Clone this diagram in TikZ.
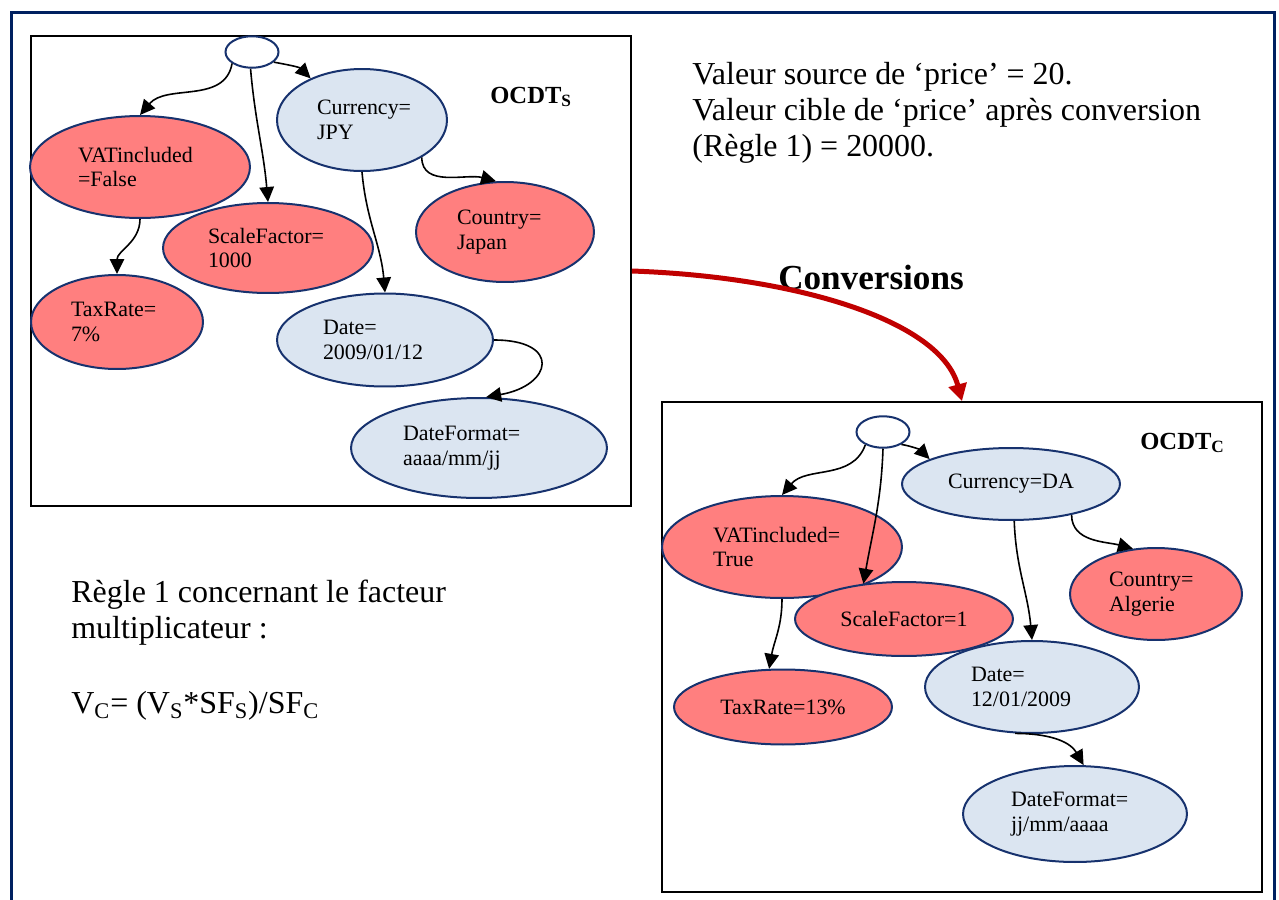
\documentclass[tikz,border=0pt]{standalone}
\usepackage{fontspec}
\setmainfont{Liberation Serif}
\usepackage{xcolor}
\usetikzlibrary{arrows.meta, shapes.geometric}

\definecolor{framenavy}{RGB}{0,32,96}
\definecolor{ellnavy}{RGB}{23,50,110}
\definecolor{attrred}{RGB}{255,127,127}
\definecolor{ctxblue}{RGB}{219,229,241}
\definecolor{convred}{RGB}{192,0,0}

\begin{document}
\begin{tikzpicture}[
  x=0.02cm, y=-0.02cm,
  ell/.style={ellipse, draw=ellnavy, line width=0.04cm, inner sep=0pt,
              align=left, font=\fontsize{12.5}{14}\selectfont},
  attr/.style={ell, fill=attrred},
  ctx/.style={ell, fill=ctxblue},
  top/.style={ell, fill=white, minimum width=1.06cm, minimum height=0.63cm},
  panel/.style={draw=black, line width=0.04cm, minimum width=12cm, inner sep=0pt},
  arr/.style={-{Triangle[length=0.3cm, width=0.29cm]}, line width=0.032cm, black},
  conv/.style={-{Triangle[length=0.34cm, width=0.36cm]}, line width=0.1cm, convred},
  txt/.style={font=\fontsize{18.2}{20.5}\selectfont, align=left, inner sep=0pt},
  lbl/.style={font=\fontsize{14}{16}\selectfont\bfseries, inner sep=0pt}
]
\useasboundingbox (0,0) rectangle (1279,900);
\draw[framenavy, line width=0.06cm] (11.5,900) -- (11.5,12) -- (1274,12) -- (1274,900);

\node[panel, minimum height=9.4cm] (boxS) at (331,271) {};
\node[panel, minimum height=9.8cm] (boxC) at (962,647) {};

\node[top] (rootS) at (252,52) {};
\node[attr, minimum width=4.4cm, minimum height=2.04cm, text width=2.48cm] (vatS) at (140,167) {VATincluded\\=False};
\node[attr, minimum width=4.2cm, minimum height=1.8cm, text width=2.4cm] (scaleS) at (268,248) {ScaleFactor=\\1000};
\node[attr, minimum width=3.44cm, minimum height=1.88cm, text width=1.84cm] (taxS) at (117,322) {TaxRate=\\7\%};
\node[ctx, minimum width=3.4cm, minimum height=2.04cm, text width=1.8cm] (curS) at (362,120) {Currency=\\JPY};
\node[attr, minimum width=3.56cm, minimum height=2.0cm, text width=1.92cm] (countryS) at (505,232) {Country=\\Japan};
\node[ctx, minimum width=4.32cm, minimum height=1.86cm, text width=2.48cm] (dateS) at (385,340) {Date=\\2009/01/12};
\node[ctx, minimum width=5.12cm, minimum height=2.0cm, text width=3.04cm] (dfS) at (479,448) {DateFormat=\\aaaa/mm/jj};
\node[lbl, anchor=west] (labS) at (490,97) {OCDT\textsubscript{S}};

\draw[arr] (rootS.210) to[out=-100, in=50] (vatS.north);
\draw[arr] (rootS.265) to[out=-85, in=95] (scaleS.north);
\draw[arr] (rootS.-25) to[out=-10, in=135] (curS.141);
\draw[arr] (curS.-32) to[out=-90, in=165] (countryS.100);
\draw[arr] (curS.south) to[out=-85, in=95] (dateS.north);
\draw[arr] (vatS.south) to[out=-90, in=90] (taxS.north);
\draw[arr] (dateS.east) to[out=0, in=10, looseness=3] (dfS.82);

\node[top] (rootC) at (883,432) {};
\node[ctx, minimum width=4.36cm, minimum height=1.44cm] (curC) at (1011,484) {Currency=DA};
\node[attr, minimum width=4.8cm, minimum height=2.04cm, text width=2.76cm] (vatC) at (782,547) {VATincluded=\\True};
\node[attr, minimum width=4.36cm, minimum height=1.48cm] (scaleC) at (904,619) {ScaleFactor=1};
\node[attr, minimum width=3.44cm, minimum height=1.84cm, text width=1.88cm] (countryC) at (1156,594) {Country=\\Algerie};
\node[attr, minimum width=4.36cm, minimum height=1.5cm] (taxC) at (783,707) {TaxRate=13\%};
\node[ctx, minimum width=4.28cm, minimum height=1.84cm, text width=2.44cm] (dateC) at (1032,687) {Date=\\12/01/2009};
\node[ctx, minimum width=4.48cm, minimum height=1.92cm, text width=2.56cm] (dfC) at (1075,814) {DateFormat=\\jj/mm/aaaa};
\node[lbl, anchor=west] (labC) at (1140,443) {OCDT\textsubscript{C}};

\draw[arr] (rootC.216) to[out=-110, in=50] (vatC.north);
\draw[arr] (rootC.south) to[out=-92, in=80] (scaleC.139);
\draw[arr] (rootC.-34) to[out=-10, in=135] (curC.163);
\draw[arr] (curC.-27) to[out=-90, in=165] (countryC.117);
\draw[arr] (curC.-85) to[out=-88, in=95] (dateC.north);
\draw[arr] (vatC.south) to[out=-90, in=80] (taxC.110);
\draw[arr] (dateC.250) to[out=0, in=120] (dfC.80);

\node[txt, anchor=west] (srcTxt) at (692,113) {Valeur source de ‘price’ = 20.\\Valeur cible de ‘price’ après conversion\\(Règle 1) = 20000.};
\node[font=\fontsize{20}{24}\selectfont\bfseries, inner sep=0pt] (convLbl) at (871,277) {Conversions};
\node[txt, anchor=west] (ruleTxt) at (71,613) {Règle 1 concernant le facteur\\multiplicateur :};
\node[txt, anchor=west] (ruleEq) at (71,706) {V\textsubscript{C}= (V\textsubscript{S}*SF\textsubscript{S})/SF\textsubscript{C}};

\draw[conv] (boxS.east) to[out=-2, in=105, out looseness=1.2, in looseness=0.6] (boxC.north);
\end{tikzpicture}
\end{document}
